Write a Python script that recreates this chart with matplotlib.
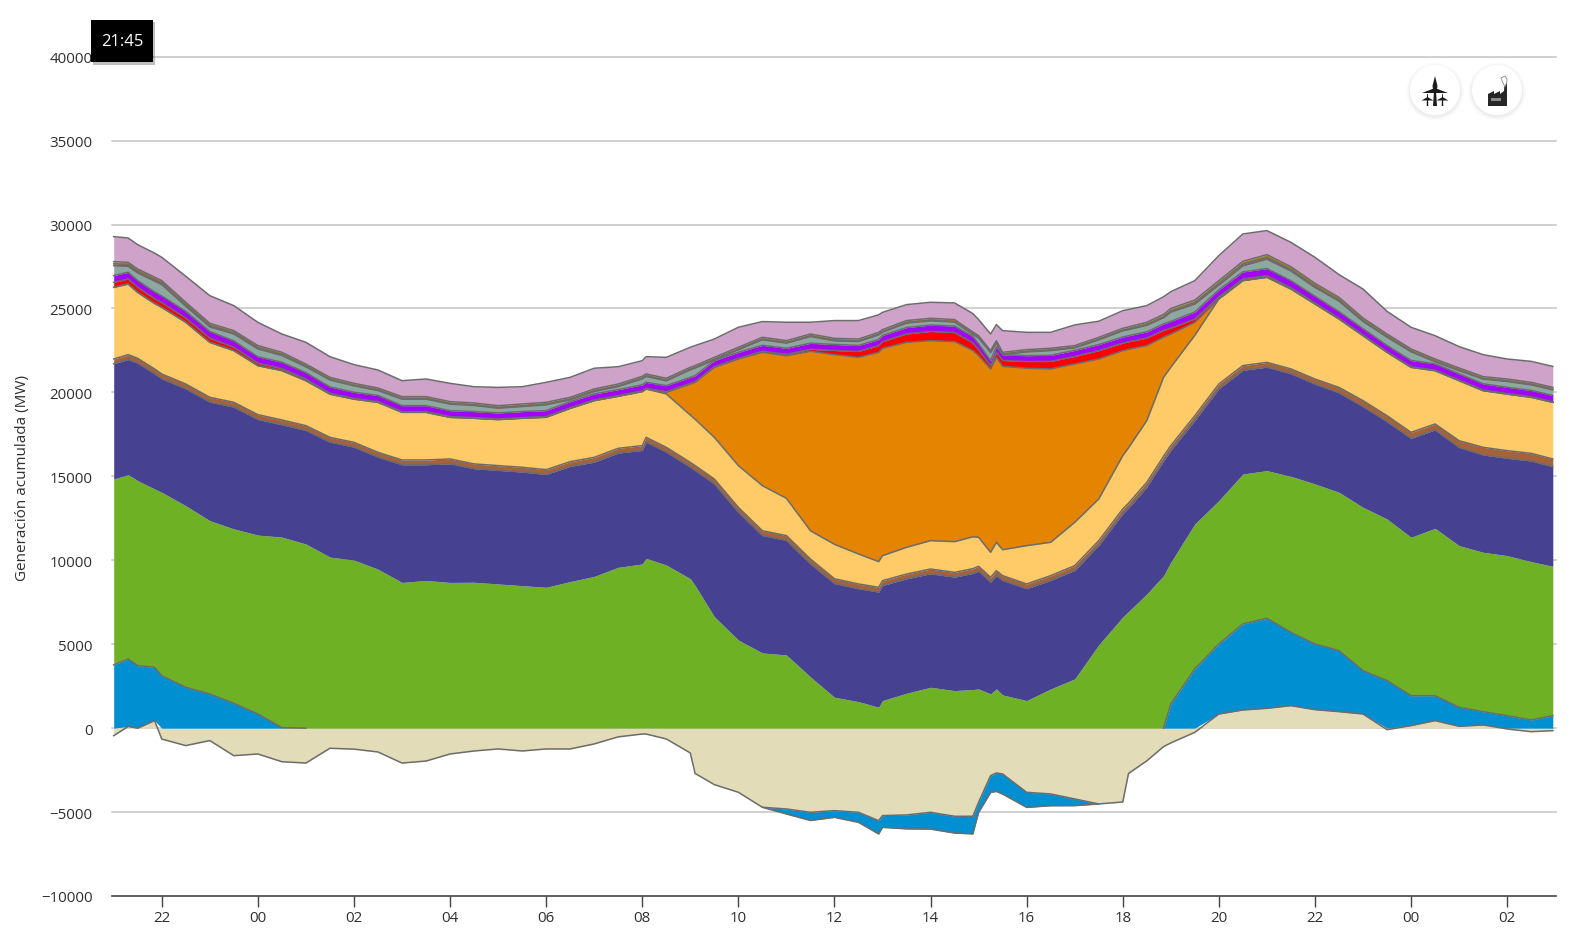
import numpy as np
import matplotlib
matplotlib.use('Agg')
import matplotlib.pyplot as plt
from matplotlib.patches import Circle, Polygon, Rectangle

plt.rcParams['font.family'] = ['Open Sans', 'DejaVu Sans']

# hours since 21:00, every half hour plus extra samples at the sharp features
extras = [0.3, 0.85, 11.08, 12.1, 15.92, 17.88, 18.25, 18.37, 21.12, 21.85]
horas = np.sort(np.concatenate([np.arange(61) * 0.5, extras]))
horas[-1] = 29.95

tick_horas = [1, 3, 5, 7, 9, 11, 13, 15, 17, 19, 21, 23, 25, 27, 29]
tick_labels = ['22', '00', '02', '04', '06', '08', '10', '12', '14', '16', '18', '20', '22', '00', '02']
y_ticks = [-10000, -5000, 0, 5000, 10000, 15000, 20000, 25000, 30000, 35000, 40000]

# accumulated values (MW)
balance = [-450, 100, 0, 450, -650, -1040, -740, -1640, -1540, -2000, -2080, -1200, -1250, -1420, -2080, -1960, -1540,
           -1360, -1240, -1360, -1240, -1240, -940, -520, -350, -350, -644, -1478, -2700, -3365, -3821, -4715, -4815, -5013,
           -4914, -5013, -5510, -5211, -5172, -5013, -5251, -5250, -4417, -2828, -2670, -2729, -3821, -3921, -4218, -4516, -4400, -2700, -1950, -1100, -880,
           -250, 843, 1082, 1181, 1340, 1102, 983, 843, -90, 150, 447, 110, 190, -50, -210, -150]
hidro = [3765, 4122, 3725, 3626, 3130, 2434, 2037, 1481, 846, 30, 0, 0, 0, 0, 0, 0, 0,
         0, 0, 0, 0, 0, 0, 0, 0, 0, 0, 0, 0, 0, 0, -4715, -5115, -5500,
         -5314, -5613, -6304, -5911, -6000, -6013, -6251, -6300, -5017, -3828, -3770, -3929, -4721, -4621, -4618, -4516, 0, 0, 0, 0, 1440,
         3525, 5014, 6206, 6543, 5709, 5014, 4617, 3425, 2830, 1936, 1936, 1240, 982, 744, 486, 744]
verde = [14840, 15100, 14740, 14250, 14050, 13250, 12360, 11870, 11500, 11380, 10970, 10190, 10010, 9470, 8680, 8800, 8680,
         8690, 8590, 8490, 8390, 8730, 9040, 9580, 9780, 10117, 9720, 8900, 8500, 6640, 5250, 4480, 4360, 3050,
         1840, 1580, 1243, 1640, 2080, 2435, 2236, 2300, 2335, 2040, 2335, 1978, 1640, 2335, 2931, 4960, 6620, 6950, 7990, 9085, 9880,
         12164, 13554, 15140, 15340, 15000, 14547, 14050, 13157, 12460, 11370, 11905, 10873, 10476, 10277, 9920, 9640]
marron_top = [21990, 22250, 22030, 21400, 21100, 20500, 19710, 19410, 18675, 18360, 18020, 17325, 17025, 16430, 15975, 15975, 16035,
              15740, 15640, 15540, 15400, 15875, 16130, 16670, 16830, 17325, 16730, 15835, 15640, 14840, 13155, 11760, 11470, 10075,
              8900, 8590, 8390, 8785, 9180, 9480, 9280, 9500, 9640, 8985, 9380, 9085, 8590, 9085, 9680, 11170, 13055, 13400, 14645, 16200, 16830,
              18615, 20500, 21600, 21790, 21400, 20800, 20300, 19510, 18615, 17620, 18120, 17125, 16730, 16530, 16370, 16035]
marron = [280, 280, 280, 280, 280, 280, 280, 280, 280, 280, 280, 280, 280, 280, 280, 280, 280,
          280, 280, 280, 280, 280, 280, 280, 280, 280, 280, 280, 280, 280, 280, 280, 280, 280,
          280, 280, 280, 280, 280, 280, 280, 280, 280, 280, 280, 280, 280, 280, 280, 280, 280, 280, 280, 280, 280,
          280, 280, 280, 280, 280, 300, 320, 350, 350, 350, 350, 400, 450, 450, 450, 450]
amarillo = [26260, 26460, 25960, 25300, 25070, 24180, 22985, 22490, 21595, 21300, 20700, 19900, 19600, 19410, 18815, 18815, 18515,
            18460, 18380, 18460, 18520, 19050, 19510, 19770, 20050, 20205, 19910, 18650, 18400, 17325, 15640, 14445, 13690, 11760,
            10950, 10375, 9920, 10275, 10770, 11170, 11110, 11400, 11370, 10475, 11070, 10630, 10870, 11070, 12260, 13650, 16230, 16700, 18320, 20900, 21500,
            23400, 25570, 26660, 26860, 26160, 25270, 24375, 23380, 22390, 21495, 21295, 20700, 20105, 19900, 19710, 19410]
naranja = [0, 0, 0, 0, 0, 0, 0, 0, 0, 0, 0, 0, 0, 0, 0, 0, 0,
           0, 0, 0, 0, 0, 0, 0, 0, 0, 20005, 20500, 20600, 21495, 21990, 22390, 22190, 22450,
           22250, 22090, 22390, 22630, 22985, 23085, 23025, 22500, 22190, 21400, 22090, 21555, 21440, 21400, 21695, 21990, 22490, 22570, 22790, 23300, 23480,
           24175, 0, 0, 0, 0, 0, 0, 0, 0, 0, 0, 0, 0, 0, 0, 0]
rojo = [300, 300, 300, 290, 280, 250, 250, 200, 150, 120, 100, 50, 40, 40, 40, 40, 40,
        40, 40, 40, 40, 40, 40, 40, 40, 40, 40, 40, 40, 40, 40, 60, 80, 120,
        250, 350, 400, 400, 500, 550, 550, 450, 350, 200, 300, 350, 400, 450, 450, 500, 450, 450, 450, 400, 350,
        200, 120, 100, 100, 80, 60, 40, 40, 30, 30, 30, 30, 30, 30, 30, 30]
morado = [400, 400, 400, 400, 400, 400, 400, 380, 380, 380, 380, 380, 370, 370, 360, 360, 360,
          360, 360, 360, 360, 360, 360, 360, 360, 360, 360, 360, 360, 360, 360, 360, 360, 360,
          360, 360, 360, 370, 380, 380, 380, 380, 360, 300, 330, 340, 350, 360, 360, 360, 360, 360, 370, 380, 400,
          420, 420, 420, 420, 420, 400, 400, 380, 380, 380, 380, 380, 380, 380, 380, 380]
rojo2 = [110, 110, 110, 110, 110, 110, 100, 80, 80, 70, 60, 50, 40, 40, 40, 40, 40,
         40, 40, 40, 40, 40, 40, 40, 40, 40, 40, 40, 40, 40, 40, 40, 40, 40,
         40, 40, 40, 40, 40, 40, 40, 40, 40, 40, 40, 40, 40, 40, 40, 40, 40, 50, 50, 60, 70,
         90, 110, 110, 110, 100, 90, 80, 70, 60, 50, 40, 40, 40, 40, 40, 40]
oliva = [130, 130, 130, 130, 130, 130, 120, 120, 120, 120, 110, 110, 110, 110, 110, 110, 110,
         110, 110, 110, 110, 110, 110, 110, 110, 110, 110, 110, 110, 110, 110, 110, 110, 110,
         110, 110, 110, 110, 110, 110, 110, 110, 100, 80, 90, 100, 100, 100, 100, 110, 110, 110, 130, 140, 150,
         150, 160, 160, 160, 160, 160, 150, 140, 130, 120, 120, 120, 110, 110, 110, 110]
oliva_top = [27790, 27750, 27350, 26870, 26660, 25370, 24120, 23680, 22790, 22390, 21690, 20900, 20540, 20260, 19750, 19750, 19450,
             19370, 19210, 19310, 19410, 19710, 20205, 20500, 20960, 21100, 20840, 21495, 21600, 22090, 22690, 23285, 23085, 23480,
             23220, 23180, 23580, 23740, 24280, 24415, 24340, 23600, 23380, 22490, 23080, 22390, 22550, 22630, 22790, 23280, 23820, 23900, 24180, 24650, 25000,
             25500, 26660, 27810, 28210, 27490, 26500, 25665, 24435, 23480, 22590, 21990, 21455, 20940, 20800, 20600, 20300]
total = [29280, 29200, 28800, 28300, 28050, 26920, 25765, 25170, 24175, 23480, 22985, 22130, 21655, 21335, 20700, 20800, 20540,
         20340, 20300, 20340, 20600, 20900, 21440, 21530, 21890, 22130, 22090, 22690, 22790, 23180, 23880, 24220, 24180, 24180,
         24280, 24280, 24620, 24770, 25230, 25370, 25330, 24700, 24340, 23480, 24040, 23680, 23580, 23580, 24020, 24240, 24870, 24940, 25170, 25700, 26000,
         26660, 28150, 29440, 29640, 28940, 28050, 27020, 26160, 24830, 23880, 23380, 22730, 22250, 21990, 21850, 21550]

COLOR_LINE = '#6c6c6c'
W, H = 1581, 937
AX_L, AX_R, AX_T, AX_B = 112.3, 1556, 57.7, 897
X0, PX_HORA = 113.7, 48.05

fig = plt.figure(figsize=(W / 100, H / 100), dpi=100)
ax = fig.add_axes([AX_L / W, (H - AX_B) / H, (AX_R - AX_L) / W, (AX_B - AX_T) / H])

balance = np.array(balance, dtype=float)
hidro = np.array(hidro, dtype=float)
amarillo = np.array(amarillo, dtype=float)
base = np.maximum(amarillo, np.array(naranja, dtype=float))
navy_top = np.array(marron_top, dtype=float) - np.array(marron, dtype=float)
rojo_top = base + np.array(rojo)
morado_top = rojo_top + np.array(morado)
oliva_bottom = np.array(oliva_top, dtype=float) - np.array(oliva)
salvia_top = oliva_bottom - np.array(rojo2)
hidro_base = np.where(hidro < 0, balance, np.maximum(balance, 0))

for y in y_ticks[1:]:
    ax.axhline(y, color='#c4c4c4', lw=1.1, zorder=1, clip_on=False)

# filled bands, bottom to top
ax.fill_between(horas, 0, balance, color='#e3dcb8', lw=0, zorder=2)
ax.fill_between(horas, hidro_base, hidro, color='#0090d1', lw=0, zorder=2)
ax.fill_between(horas, np.maximum(np.maximum(hidro, balance), 0), verde, color='#6fb124', lw=0, zorder=2)
ax.fill_between(horas, verde, navy_top, color='#474192', lw=0, zorder=2)
ax.fill_between(horas, navy_top, marron_top, color='#a8623a', lw=0, zorder=2)
ax.fill_between(horas, marron_top, amarillo, color='#ffcb69', lw=0, zorder=2)
ax.fill_between(horas, amarillo, base, color='#e48400', lw=0, zorder=2)
ax.fill_between(horas, base, rojo_top, color='#ff0000', lw=0, zorder=2)
ax.fill_between(horas, rojo_top, morado_top, color='#a400ff', lw=0, zorder=2)
ax.fill_between(horas, morado_top, salvia_top, color='#8ca9a1', lw=0, zorder=2)
ax.fill_between(horas, salvia_top, oliva_bottom, color='#c4303c', lw=0, zorder=2)
ax.fill_between(horas, oliva_bottom, oliva_top, color='#a98a10', lw=0, zorder=2)
ax.fill_between(horas, oliva_top, total, color='#cfa2ca', lw=0, zorder=2)

# outlines of the series
for serie in [balance, navy_top, marron_top, amarillo, base, rojo_top, morado_top,
              salvia_top, oliva_bottom, oliva_top, total]:
    ax.plot(horas, serie, color=COLOR_LINE, lw=1.1, zorder=3, solid_joinstyle='round')
# hydro has no line while it is zero
for tramo in [horas <= 4, (horas >= 13.5) & (horas <= 20.5), horas >= 21.85]:
    ax.plot(horas[tramo], hidro[tramo], color=COLOR_LINE, lw=1.1, zorder=3)

ax.set_xlim((AX_L - X0) / PX_HORA, (AX_R - X0) / PX_HORA)
ax.set_ylim(-10000, 40000)
ax.set_xticks(tick_horas)
ax.set_xticklabels(tick_labels)
ax.set_yticks(y_ticks)
ax.set_yticklabels([str(v).replace('-', '\u2212') for v in y_ticks])
for side in ['top', 'left', 'right']:
    ax.spines[side].set_visible(False)
ax.spines['bottom'].set_color('#444444')
ax.spines['bottom'].set_linewidth(1.2)
ax.tick_params(axis='x', length=8, width=1.0, color='#444444', labelsize=10.8, labelcolor='#2f2f2f', pad=2)
ax.tick_params(axis='y', length=0, labelsize=10.8, labelcolor='#2f2f2f', pad=14)

# overlay in pixel coordinates for the label, tooltip and buttons
ov = fig.add_axes([0, 0, 1, 1], zorder=5)
ov.set_xlim(0, W)
ov.set_ylim(H, 0)
ov.axis('off')
ov.patch.set_alpha(0)

ov.text(22.5, 478, 'Generación acumulada (MW)', rotation=90, ha='center', va='center',
        fontsize=11, color='#2f2f2f')

# tooltip
ov.add_patch(Rectangle((93, 23), 62, 42.5, fc='#000000', alpha=0.25, lw=0))
ov.add_patch(Rectangle((91.3, 20.8), 62, 42.5, fc='#000000', lw=0))
ov.text(122.3, 42.5, '21:45', color='white', ha='center', va='center', fontsize=12)

# round buttons with a soft shadow
for cx in [1435, 1497]:
    for grow, a in [(4, 0.015), (2.5, 0.02), (1.2, 0.03)]:
        ov.add_patch(Circle((cx, 92.5), 25 + grow, fc='#000000', alpha=a, lw=0))
    ov.add_patch(Circle((cx, 91), 25, fc='white', lw=0))

# wind turbine icon
ICON = '#1c1c1c'
ov.add_patch(Polygon([(1434, 92), (1436, 92), (1437, 107), (1433, 107)], fc=ICON, lw=0))
ov.add_patch(Polygon([(1435, 77), (1437.5, 87), (1436.5, 93), (1433.5, 93), (1432.5, 87)], fc=ICON, lw=0))
ov.add_patch(Polygon([(1435, 89), (1422, 94), (1435, 94)], fc=ICON, lw=0))
ov.add_patch(Polygon([(1435, 89), (1448, 94), (1435, 94)], fc=ICON, lw=0))
for cx in [1427.5, 1442.5]:
    ov.add_patch(Polygon([(cx - 0.4, 95), (cx + 0.4, 95), (cx + 0.8, 107), (cx - 0.8, 107)], fc=ICON, lw=0))
    ov.add_patch(Polygon([(cx, 98), (cx - 6, 101.5), (cx + 6, 101.5)], fc=ICON, lw=0))

# factory icon
ov.add_patch(Polygon([(1488, 107), (1488, 95), (1494, 92), (1494, 95), (1500, 92), (1500, 95), (1504, 92),
                      (1504.5, 84), (1507, 84), (1507, 107)], fc='#262626', lw=0))
ov.add_patch(Rectangle((1491, 99), 10, 3, fc='#8a8a8a', lw=0))
ov.add_patch(Polygon([(1501, 79), (1505, 77), (1507, 80), (1506.5, 84), (1505, 88), (1503, 84)],
                     fc='white', ec='#8a8a8a', lw=0.6))

fig.savefig('out.png', dpi=100, facecolor='white')
